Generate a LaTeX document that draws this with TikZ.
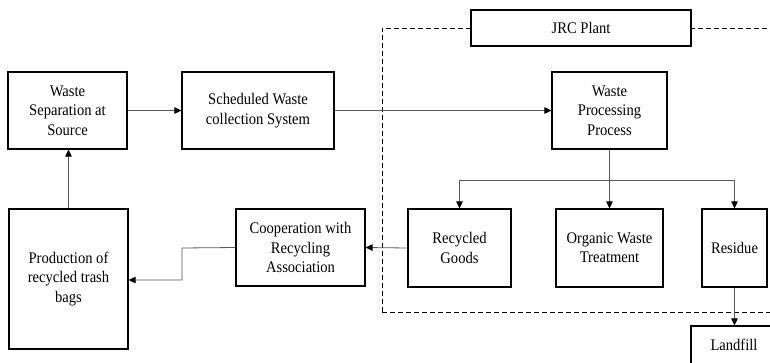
\documentclass[tikz,border=0pt]{standalone}
\usepackage{fontspec}
\setmainfont{Liberation Serif}[FakeStretch=0.9]
\usetikzlibrary{arrows.meta}
\begin{document}
\begin{tikzpicture}[x=1pt,y=-1pt,
  box/.style={draw=black, line width=1.1pt, fill=white, inner sep=0pt, align=center,
    font=\fontsize{16.2}{19.3}\selectfont},
  conn/.style={draw=black!65, line width=0.8pt, -{Triangle[length=7pt,width=6.5pt,color=black]}},
  plant/.style={draw=black, line width=0.9pt, dash pattern=on 5pt off 3pt}]
\useasboundingbox (0,0) rectangle (770,362);
\clip (0,0) rectangle (770,362);
% dashed plant boundary
\draw[plant] (382,312) -- (382,28) -- (800,28);
\draw[plant] (382,312) -- (800,312);
\node[box, minimum width=220pt, minimum height=36pt] (jrc) at (581,28) {JRC Plant};
% boxes
\node[box, minimum width=119pt, minimum height=77pt] (ws) at (67.5,110.5) {Waste\\Separation at\\Source};
\node[box, minimum width=152pt, minimum height=77pt] (sc) at (258,110.5) {Scheduled Waste\\collection System};
\node[box, minimum width=115pt, minimum height=77pt] (wp) at (609.5,110.5) {Waste\\Processing\\Process};
\node[box, minimum width=103pt, minimum height=78pt] (rg) at (459.5,248) {Recycled\\Goods};
\node[box, minimum width=107pt, minimum height=78pt] (ow) at (609.5,248) {Organic Waste\\Treatment};
\node[box, minimum width=65pt, minimum height=78pt] (re) at (734.5,248) {Residue};
\node[box, minimum width=129pt, minimum height=77pt] (co) at (300.5,247.5) {Cooperation with\\Recycling\\Association};
\node[box, minimum width=119pt, minimum height=140pt] (pr) at (68.5,279) {Production of\\recycled trash\\bags};
\node[box, minimum width=86pt, minimum height=38pt] (lf) at (734,345) {Landfill};
% connectors
\coordinate (br) at (wp.south |- 0,180);
\draw[conn] (ws.east) -- (sc.west);
\draw[conn] (sc.east) -- (wp.west);
\draw[draw=black!65, line width=0.8pt] (wp.south) -- (br);
\draw[conn] (br) -| (rg.north);
\draw[conn] (br) -- (ow.north);
\draw[conn] (br) -| (re.north);
\draw[conn] (re.south) -- (re.south |- lf.north);
\draw[conn] (rg.west) -- (co.east);
\draw[conn] (co.west) -- (182,248) -- (182,280) -- (pr.east |- 0,280);
\draw[conn] (pr.north) -- (pr.north |- ws.south);
\end{tikzpicture}
\end{document}
